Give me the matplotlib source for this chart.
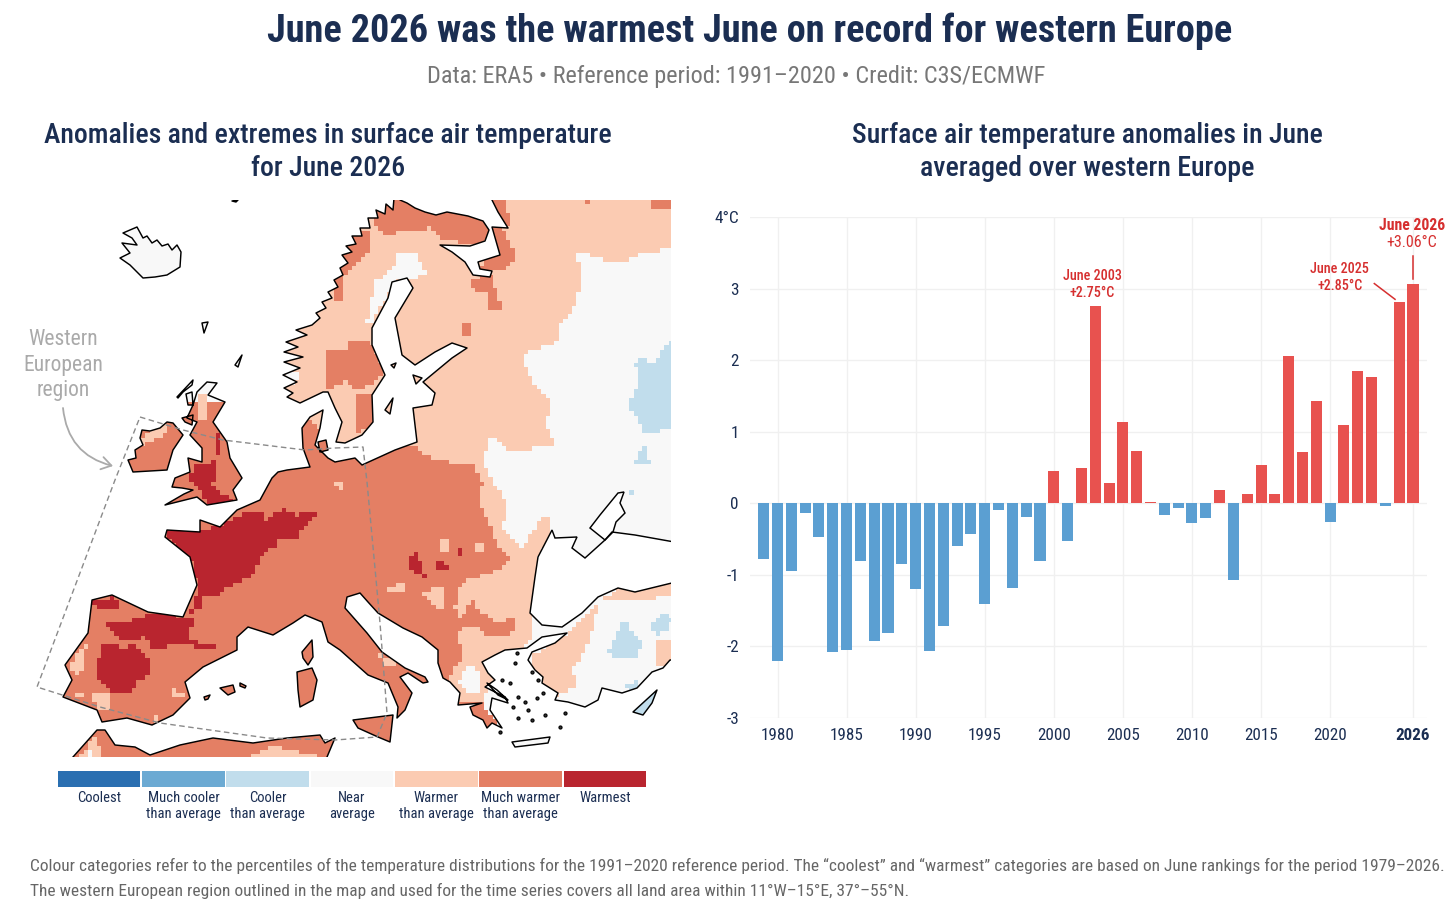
import numpy as np
import matplotlib
matplotlib.use("Agg")
import matplotlib.pyplot as plt
from matplotlib.path import Path
from matplotlib.patches import PathPatch, FancyArrowPatch
from matplotlib.colors import ListedColormap

COND = ['Roboto Condensed', 'Liberation Sans Narrow', 'Roboto', 'DejaVu Sans']
plt.rcParams['font.family'] = COND

# ---------- time series ----------
years = list(range(1979, 2027))
anomalies = [-0.78, -2.20, -0.94, -0.14, -0.47, -2.08, -2.05, -0.80, -1.93, -1.81,
             -0.85, -1.20, -2.06, -1.71, -0.60, -0.43, -1.41, -0.10, -1.19, -0.19,
             -0.80, 0.45, -0.52, 0.49, 2.75, 0.28, 1.14, 0.73, 0.02, -0.16,
             -0.06, -0.28, -0.21, 0.18, -1.07, 0.13, 0.53, 0.13, 2.06, 0.71,
             1.43, -0.26, 1.10, 1.85, 1.77, -0.04, 2.81, 3.06]
xtick_years = [1980, 1985, 1990, 1995, 2000, 2005, 2010, 2015, 2020, 2026]
ytick_vals = [-3, -2, -1, 0, 1, 2, 3, 4]
ytick_labels = ['-3', '-2', '-1', '0', '1', '2', '3', '4°C']

# ---------- legend ----------
cat_colors = ['#2a6fb1', '#6caad3', '#c1ddec', '#f8f8f8', '#fbcbb2', '#e47f64', '#b9252f']
cat_labels = ['Coolest', 'Much cooler\nthan average', 'Cooler\nthan average', 'Near\naverage',
              'Warmer\nthan average', 'Much warmer\nthan average', 'Warmest']

# ---------- map outlines (map coordinates) ----------
mainland = [(398,190),(400,200),(407,203),(415,208),(425,212),(436,215),(447,212),(468,216),(483,221),(489,230),(485,241),(470,246),
 (440,245),(452,252),(465,262),(473,275),(490,277),(492,271),(480,269),(478,262),(500,255),(492,227),(508,228),
 (498,212),(492,200),(492,190),(680,190),(680,660),(670,660),(663,668),(652,672),(637,688),(622,693),(602,688),
 (598,700),(585,707),(568,702),(555,700),(558,693),(542,683),(543,677),(535,670),(528,660),(532,652),(555,643),(567,633),
 (542,637),(527,648),(505,650),(495,655),(482,662),(488,673),(495,680),(485,687),(505,697),(508,703),(492,698),
 (490,710),(502,728),(492,723),(487,728),(483,720),(473,715),(470,707),(482,703),(458,705),(460,693),(450,682),
 (443,678),(438,663),(438,650),(422,637),(403,628),(378,613),(368,602),(360,593),(347,597),(345,608),(367,633),
 (382,652),(405,668),(425,677),(428,682),(423,683),(408,673),(400,677),(412,693),(405,710),(397,718),(398,707),
 (388,683),(368,675),(340,650),(328,642),(322,622),(305,615),(293,623),(273,635),(248,627),(237,637),(237,650),
 (203,667),(185,682),(190,698),(173,715),(152,725),(127,718),(102,722),(97,710),(63,697),(72,680),(65,665),
 (88,633),(92,600),(112,595),(148,612),(183,617),(197,585),(190,557),(165,537),(167,530),(200,532),(200,520),
 (220,527),(237,510),(260,500),(272,478),(278,472),(287,470),(310,467),(303,448),(302,428),(310,417),(323,410),(320,428),(315,445),
 (328,458),(335,462),(355,458),(362,465),(395,450),(417,442),(413,408),(432,405),(435,393),(423,382),(452,358),
 (467,348),(452,343),(435,352),(415,365),(402,355),(395,318),(413,288),(407,278),(392,282),(388,298),(372,328),
 (372,345),(385,375),(372,395),(373,422),(362,435),(345,443),(336,442),(342,422),(335,408),(328,392),(323,392),
 (300,403),(287,397),(293,393),(284,388),(297,382),(283,375),(300,368),(284,362),(303,357),(284,352),(298,347),(286,342),
 (307,335),(296,330),(312,325),(320,318),(316,313),(326,308),(322,302),(332,298),(328,292),(338,287),(334,280),(343,275),
 (340,268),(348,263),(342,255),(352,252),(346,246),(356,244),(352,236),(362,236),(360,228),(370,228),(368,218),(378,218),
 (376,210),(385,214),(386,204),(393,210),(394,198)]
great_britain = [(207,382),(217,383),(208,395),(225,402),(213,422),(227,442),(230,458),(242,478),(233,490),(237,500),
 (207,505),(197,497),(165,505),(184,494),(193,490),(182,488),(172,487),(175,478),(190,472),(188,458),(202,462),(202,448),(190,435),(197,422),(187,418),
 (193,405),(197,392)]
ireland = [(142,430),(150,431),(160,428),(167,422),(173,423),(183,435),(173,450),(167,470),(133,472),(128,460),(136,458),(135,450),(143,445),(140,438)]
iceland = [(123,233),(137,227),(143,238),(147,236),(152,243),(157,240),(162,246),(168,244),(172,250),(177,245),(181,252),(180,267),(167,275),(155,277),(143,278),
 (130,265),(120,258),(130,253),(122,243),(137,245),(132,238)]
africa = [(60,770),(73,757),(97,730),(105,730),(115,745),(135,747),(150,755),(180,745),(213,738),(253,743),(287,738),
 (320,735),(325,743),(335,738),(327,757),(325,770)]
sicily = [(353,720),(393,715),(390,742),(378,737),(358,728)]
sardinia = [(297,672),(312,668),(317,680),(313,700),(300,707),(298,690)]
corsica = [(302,652),(312,640),(313,657),(308,665),(303,658)]
mallorca = [(220,688),(233,685),(235,692),(228,695)]
menorca = [(240,683),(246,686),(245,688),(240,686)]
ibiza = [(204,697),(210,695),(208,699),(205,700)]
crete = [(512,742),(550,737),(548,743),(515,747)]
cyprus = [(633,712),(657,690),(652,703),(643,715)]
zealand = [(318,442),(326,440),(328,450),(320,452)]
gotland = [(385,410),(393,398),(390,414)]
saaremaa = [(413,375),(422,378),(416,384)]
aland = [(391,365),(396,363),(394,368)]
shetland = [(202,323),(208,322),(204,333)]
faroe = [(235,365),(242,355),(238,367)]
hebrides = [(177,397),(193,380),(192,385),(183,392),(178,398)]
skye = [(186,394),(192,392),(193,405),(188,405)]
lewis = [(182,418),(193,415),(192,425),(185,422)]
svalbard = [(232,201),(238,200),(236,202)]
euboea = [(487,683),(497,690),(508,700),(498,695)]
islands = [great_britain, ireland, iceland, africa, sicily, sardinia, corsica, mallorca, menorca, ibiza,
           crete, cyprus, zealand, gotland, saaremaa, aland, shetland, faroe, hebrides, skye, lewis, svalbard, euboea]
black_sea = [(552,530),(538,557),(535,577),(530,613),(542,625),(562,627),(582,613),(598,597),(618,588),(635,592),
 (680,581),(680,543),(635,535),(612,532),(605,540),(585,558),(572,548),(577,537),(555,538)]
azov = [(590,528),(600,515),(618,493),(624,492),(620,503),(625,513),(616,522),(613,532),(605,540)]
aegean_x = [517, 515, 502, 510, 532, 538, 543, 537, 518, 513, 528, 545, 532, 518, 565, 560, 500, 525]
aegean_y = [653, 663, 680, 683, 672, 680, 693, 698, 697, 707, 710, 715, 720, 718, 713, 727, 732, 702]
region_box = [(140,417),(183,430),(223,440),(305,450),(335,448),(363,447),(367,482),(377,590),(380,623),(387,713),
 (377,737),(335,740),(267,738),(160,723),(100,707),(37,687),(115,480),(140,417)]

# ---------- colour category areas, painted in order: (category index, outline) ----------
areas = [
 (4, [(250,185),(680,185),(680,248),(648,252),(618,263),(578,252),(580,288),(572,315),(558,325),(558,342),(538,348),
      (522,355),(532,382),(552,402),(545,425),(557,445),(512,452),(492,435),(483,462),(492,482),(508,503),(502,527),
      (522,547),(545,513),(552,527),(538,560),(530,640),(500,670),(470,720),(400,730),(250,700)]),
 (4, [(532,657),(568,633),(598,603),(618,587),(680,580),(680,592),(648,600),(618,607),(592,643),(573,670),(578,687),
      (552,697),(530,670)]),
 (4, [(680,638),(652,653),(655,668),(680,662)]),
 (3, [(367,322),(375,282),(393,268),(398,255),(415,252),(428,275),(412,278),(392,282),(390,292),(378,312),(370,327)]),
 (3, [(285,375),(296,370),(300,380),(290,388)]),
 (5, [(0,400),(300,405),(335,450),(415,446),(425,455),(448,462),(472,462),(482,482),(480,503),(492,530),(502,553),
      (512,555),(502,568),(468,580),(458,590),(455,608),(462,620),(458,637),(463,657),(452,670),(448,685),(460,700),
      (480,700),(505,735),(400,770),(0,770)]),
 (5, [(460,620),(472,600),(482,613),(498,623),(515,618),(515,633),(492,635),(482,633),(478,627),(462,627)]),
 (5, [(372,225),(385,235),(430,228),(445,240),(485,245),(495,215),(450,205),(400,195),(375,205)]),
 (5, [(335,300),(343,300),(345,275),(367,255),(372,230),(355,235),(335,270)]),
 (5, [(493,225),(505,230),(515,255),(510,268),(480,270),(490,250)]),
 (5, [(472,278),(490,275),(495,290),(502,308),(501,312),(490,310),(490,295),(475,293),(470,285)]),
 (5, [(460,195),(505,195),(510,225),(493,225)]),
 (5, [(325,348),(347,348),(348,340),(368,340),(385,372),(372,385),(355,392),(345,382),(325,390)]),
 (5, [(355,395),(372,392),(372,428),(355,432)]),
 (5, [(460,325),(470,325),(470,337),(462,335)]),
 (5, [(580,195),(595,195),(590,205)]),
 (5, [(645,195),(672,195),(672,208),(655,210)]),
 (5, [(635,600),(648,600),(640,607)]),
 (4, [(150,428),(167,423),(170,428),(160,437),(143,445),(143,437)]),
 (4, [(197,395),(207,395),(208,420),(197,418)]),
 (4, [(70,665),(88,640),(80,680),(72,672)]),
 (4, [(92,695),(110,695),(112,710),(96,708)]),
 (4, [(75,690),(88,698),(72,697)]),
 (4, [(152,716),(157,716),(157,722),(152,722)]),
 (4, [(172,690),(186,692),(184,697),(173,695)]),
 (4, [(385,588),(404,583),(405,590),(386,593)]),
 (4, [(423,592),(443,587),(443,612),(433,603),(423,597)]),
 (4, [(438,540),(447,540),(447,552),(440,555)]),
 (4, [(475,540),(482,545),(482,552),(477,550)]),
 (4, [(335,482),(345,482),(342,490)]),
 (4, [(380,655),(395,660),(393,670),(383,665)]),
 (4, [(250,757),(272,745),(290,750),(320,757)]),
 (4, [(70,770),(95,735),(106,770)]),
 (3, [(80,770),(90,748),(100,770)]),
 (3, [(458,680),(470,665),(482,675),(478,695),(465,690)]),
 (6, [(167,530),(197,532),(220,525),(247,513),(263,510),(267,522),(283,507),(297,517),(308,510),(318,513),(308,523),
      (297,538),(280,537),(278,545),(267,550),(250,577),(227,587),(218,598),(202,598),(203,608),(190,613),(198,587),
      (190,557),(165,537)]),
 (6, [(93,603),(113,597),(120,607),(100,610)]),
 (6, [(105,622),(117,623),(147,617),(147,612),(183,617),(195,620),(187,640),(217,647),(215,650),(173,643),(163,650),
      (148,648),(147,637),(120,640),(110,630)]),
 (6, [(103,643),(112,643),(123,650),(133,645),(147,657),(153,672),(140,680),(130,692),(113,692),(97,677),(95,665),(100,657)]),
 (6, [(190,482),(193,465),(213,465),(217,428),(220,448),(217,455),(213,485),(233,502),(207,503),(197,487)]),
 (6, [(410,555),(418,552),(425,577),(415,573),(410,567)]),
 (6, [(433,560),(443,560),(450,570),(435,568)]),
 (6, [(458,548),(463,548),(463,558),(458,555)]),
 (2, [(635,365),(643,355),(652,365),(672,338),(672,428),(645,435),(628,403),(640,382)]),
 (2, [(637,455),(645,448),(650,462),(635,465)]),
 (3, [(600,600),(655,600),(672,595),(672,640),(655,655),(650,672),(620,685),(590,680),(575,670),(590,640)]),
 (4, [(655,638),(672,640),(672,660),(655,668)]),
 (2, [(607,653),(625,620),(635,637),(642,643),(637,657),(612,657)]),
 (2, [(652,623),(663,612),(672,620),(668,630),(655,637)]),
 (2, [(622,688),(642,678),(635,692)]),
 (2, [(630,705),(660,688),(655,716),(635,716)]),
 (2, [(628,488),(635,490),(632,496)]),
]

# ---------- figure ----------
W, H = 1456, 906
fig = plt.figure(figsize=(W/100, H/100), dpi=100, facecolor='white')
NAVY = '#1b2e52'
def ftext(x, y, s, **kw):
    fig.text(x/W, 1-y/H, s, **kw)

ftext(750, 31, 'June 2026 was the warmest June on record for western Europe', ha='center', va='center',
      fontsize=27.5, fontweight='bold', color=NAVY)
ftext(736, 77, 'Data: ERA5 • Reference period: 1991–2020 • Credit: C3S/ECMWF', ha='center', va='center',
      fontsize=17.5, color='#777777')
ftext(328, 152, 'Anomalies and extremes in surface air temperature\nfor June 2026', ha='center', va='center',
      fontsize=19.95, fontweight='medium', color=NAVY, linespacing=1.26)
ftext(1087, 152, 'Surface air temperature anomalies in June\naveraged over western Europe', ha='center', va='center',
      fontsize=19.95, fontweight='medium', color=NAVY, linespacing=1.26)
ftext(30, 866, 'Colour categories refer to the percentiles of the temperature distributions for the 1991–2020 reference period. The “coolest” and “warmest” categories are based on June rankings for the period 1979–2026.',
      ha='left', va='center', fontsize=12.48, color='#666666')
ftext(30, 891, 'The western European region outlined in the map and used for the time series covers all land area within 11°W–15°E, 37°–55°N.',
      ha='left', va='center', fontsize=12.48, color='#666666')

# ---------- map ----------
mx = fig.add_axes([0, 1-757/H, 671/W, 557/H])
mx.set_xlim(0, 671); mx.set_ylim(757, 200); mx.axis('off')

cell = 4.4
gx = np.arange(0, 671+cell, cell); gy = np.arange(200, 757+cell, cell)
cx, cy = np.meshgrid(gx[:-1]+cell/2, gy[:-1]+cell/2)
pts = np.column_stack([cx.ravel(), cy.ravel()])
grid = np.full(cx.shape, 3, dtype=int)
for cat, poly in areas:
    grid[Path(poly+[poly[0]]).contains_points(pts).reshape(cx.shape)] = cat

def ring(p):
    return Path(list(p)+[p[0]], [Path.MOVETO]+[Path.LINETO]*(len(p)-1)+[Path.CLOSEPOLY])
land = Path.make_compound_path(*[ring(p) for p in [mainland]+islands])
mesh = mx.pcolormesh(gx, gy, grid, cmap=ListedColormap(cat_colors), vmin=-0.5, vmax=6.5, rasterized=True)
mesh.set_clip_path(PathPatch(land, transform=mx.transData))
mx.add_patch(PathPatch(land, fc='none', ec='black', lw=1.05, joinstyle='round', zorder=3))
for sea in (black_sea, azov):
    mx.add_patch(PathPatch(ring(sea), fc='white', ec='none', zorder=3.5))
mx.add_patch(PathPatch(ring(black_sea), fc='none', ec='black', lw=1.05, zorder=3.6))
mx.add_patch(PathPatch(ring(azov), fc='none', ec='black', lw=1.05, zorder=3.6))
mx.scatter(aegean_x, aegean_y, s=5, marker='o', fc='#333333', ec='black', lw=0.8, zorder=4)
bx, by = zip(*region_box)
mx.plot(bx, by, color='#8a8a8a', lw=1.0, ls=(0, (4, 2.5)), zorder=5)
mx.text(63, 365, 'Western\nEuropean\nregion', ha='center', va='center', fontsize=15.5, color='#aaaaaa', linespacing=1.26)
mx.add_patch(FancyArrowPatch((63, 408), (113, 466), connectionstyle='arc3,rad=0.35', arrowstyle='->,head_length=7,head_width=4.5',
                             color='#aaaaaa', lw=1.3, zorder=5, shrinkA=0, shrinkB=0))

# ---------- legend ----------
lx = fig.add_axes([57/W, 1-787/H, 590/W, 16/H])
lx.set_xlim(0, 7); lx.set_ylim(0, 1); lx.axis('off')
lx.bar(np.arange(7)+0.5, [1]*7, width=0.98, color=cat_colors, align='center')
for i, lab in enumerate(cat_labels):
    ftext(57+(i+0.5)*590/7, 791, lab, ha='center', va='top', fontsize=10.5, color=NAVY, linespacing=1.2)

# ---------- bars ----------
xpx0, xpx1 = 750, 1427
yr_per_px = (2026-1980)/(1413-777.5)
ax = fig.add_axes([xpx0/W, 1-718/H, (xpx1-xpx0)/W, (718-217)/H])
ax.set_xlim(1980+(xpx0-777.5)*yr_per_px, 1980+(xpx1-777.5)*yr_per_px)
ax.set_ylim(-3, 4)
colors = ['#e8524f' if v > 0 else '#5b9fd2' for v in anomalies]
ax.bar(years, anomalies, width=0.8, color=colors, zorder=3)
ax.grid(True, color='#f0f0f0', lw=1.0, zorder=0)
ax.set_axisbelow(True)
for s in ax.spines.values():
    s.set_visible(False)
ax.set_xticks(xtick_years); ax.set_xticklabels(xtick_years)
ax.set_yticks(ytick_vals); ax.set_yticklabels(ytick_labels)
ax.tick_params(axis='both', length=0, colors=NAVY, labelsize=12.3)
ax.tick_params(axis='x', pad=7)
ax.tick_params(axis='y', pad=8)
ax.get_xticklabels()[-1].set_fontweight('bold')
RED = '#d62f2f'
ax.text(2002.8, 2.84, 'June 2003\n+2.75°C', ha='center', va='bottom', color=RED, fontsize=10.2, fontweight='medium', linespacing=1.25)
ax.text(2020.7, 2.94, 'June 2025\n+2.85°C', ha='center', va='bottom', color=RED, fontsize=10.2, fontweight='medium', linespacing=1.25)
ax.text(2025.9, 3.77, 'June 2026', ha='center', va='bottom', color=RED, fontsize=11.3, fontweight='bold', clip_on=False)
ax.text(2025.9, 3.75, '+3.06°C', ha='center', va='top', color=RED, fontsize=11.5, clip_on=False)
ax.plot([2024.7, 2023.2], [2.85, 3.07], color=RED, lw=1.1, zorder=4)
ax.plot([2026, 2026], [3.14, 3.46], color=RED, lw=1.1, zorder=4)

fig.savefig('out.png', dpi=100)
